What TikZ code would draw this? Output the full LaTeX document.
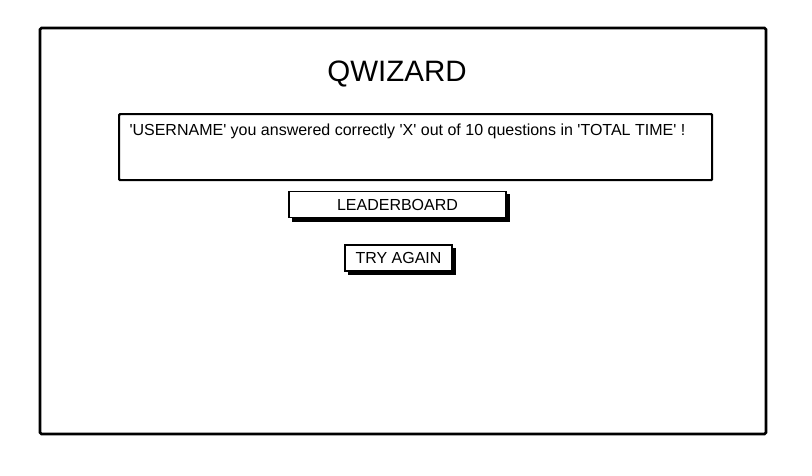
\documentclass[tikz,border=0pt]{standalone}
\usepackage{fontspec}
\setmainfont{Liberation Sans}
\usetikzlibrary{positioning,shadows}
\newcommand\sq{\textquotesingle}
\begin{document}
\begin{tikzpicture}[x=1pt,y=-1pt,
  frame/.style={draw,line width=2.6pt,rounded corners=1.5pt},
  msgbox/.style={draw,line width=2.2pt,rounded corners=1pt,minimum width=593pt,minimum height=66pt,anchor=north west},
  btn/.style={draw,fill=white,line width=1.6pt,inner sep=0pt,minimum height=26pt,font=\fontsize{16pt}{18pt}\selectfont,
    copy shadow={shadow xshift=3.5pt,shadow yshift=-3.5pt,fill=black,draw=black}}]
\useasboundingbox (0,0) rectangle (812,475);
\draw[frame] (40,28) rectangle (766,434);
\node[anchor=base,font=\fontsize{29.5pt}{32pt}\selectfont] (title) at (397,81) {QWIZARD};
\node[msgbox] (msg) at (118,113) {};
\node[anchor=base west,font=\fontsize{16pt}{18pt}\selectfont] (msgtext) at (126,135)
  {\sq USERNAME\sq{} you answered correctly \sq X\sq{} out of 10 questions in \sq TOTAL TIME\sq{} !};
\node[btn,minimum width=217pt] (leader) at (397.5,204.5) {LEADERBOARD};
\node[btn,minimum width=107pt] (again) at (398.5,258) {TRY AGAIN};
\end{tikzpicture}
\end{document}
